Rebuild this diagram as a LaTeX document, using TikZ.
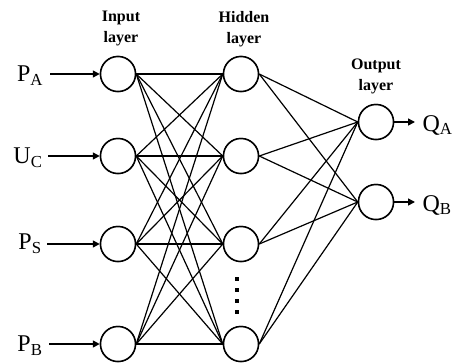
\documentclass[tikz,border=0pt]{standalone}
\usepackage{fontspec}
\setmainfont{Liberation Serif}
\usetikzlibrary{arrows.meta}
\begin{document}
\begin{tikzpicture}[x=1pt,y=-1pt,
  neuron/.style={circle,draw,line width=1.5pt,minimum size=35pt,inner sep=0pt,fill=white},
  link/.style={line width=1.2pt},
  inarrow/.style={line width=1.5pt,-{Triangle[length=7pt,width=7pt]}},
  lbl/.style={font=\fontsize{24}{26}\selectfont,anchor=center},
  head/.style={font=\bfseries\fontsize{16}{21}\selectfont,align=center}]
\useasboundingbox (0,0) rectangle (454,362);
% neurons
\foreach \n/\y in {1/74,2/156,3/244,4/344}{
  \node[neuron] (i\n) at (118,\y) {};
  \node[neuron] (h\n) at (241,\y) {};
}
\node[neuron] (o1) at (376,122) {};
\node[neuron] (o2) at (376,202) {};
% connections
\foreach \a in {1,2,3,4}{
  \foreach \b in {1,2,3,4}{
    \draw[link] (i\a.east) -- (h\b.west);
  }
  \foreach \b in {1,2}{
    \draw[link] (h\a.east) -- (o\b.west);
  }
}
\foreach \n in {1,2,3,4}{\node[neuron] at (i\n) {};\node[neuron] at (h\n) {};}
\node[neuron] at (o1) {};\node[neuron] at (o2) {};
% dots
\foreach \d/\y in {1/279,2/290,3/301,4/312}{
  \node[rectangle,fill,inner sep=0pt,minimum size=4pt] (d\d) at (237,\y) {};
}
% input labels
\node[lbl] (pa) at (30,76) {P\textsubscript{A}};
\node[lbl] (uc) at (28,158) {U\textsubscript{C}};
\node[lbl] (ps) at (30,244) {P\textsubscript{S}};
\node[lbl] (pb) at (30,346) {P\textsubscript{B}};
\coordinate (sa) at (50,74);
\coordinate (sc) at (48,156);
\coordinate (ss) at (47,244);
\coordinate (sb) at (49,344);
\draw[inarrow] (sa) -- (i1.west);
\draw[inarrow] (sc) -- (i2.west);
\draw[inarrow] (ss) -- (i3.west);
\draw[inarrow] (sb) -- (i4.west);
% outputs
\coordinate (ea) at (415,122);
\coordinate (eb) at (415,202);
\draw[inarrow] (o1.east) -- (ea);
\draw[inarrow] (o2.east) -- (eb);
\node[lbl,anchor=west] (qa) at (419,125) {Q\textsubscript{A}};
\node[lbl,anchor=west] (qb) at (419,205) {Q\textsubscript{B}};
% headings
\node[head] (hi) at (121,28) {Input\\layer};
\node[head] (hh) at (244,29) {Hidden\\layer};
\node[head] (ho) at (376,76) {Output\\layer};
\end{tikzpicture}
\end{document}
